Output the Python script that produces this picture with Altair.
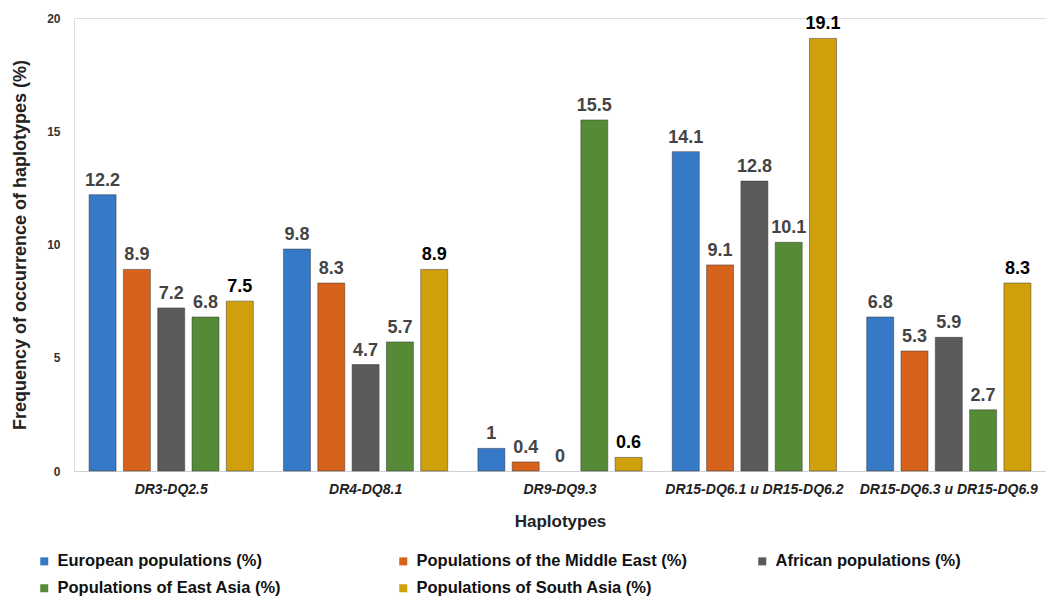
import altair as alt
import pandas as pd

haplotypes = ["DR3-DQ2.5", "DR4-DQ8.1", "DR9-DQ9.3", "DR15-DQ6.1 u DR15-DQ6.2", "DR15-DQ6.3 u DR15-DQ6.9"]
populations = ["European populations (%)", "Populations of the Middle East (%)", "African populations (%)",
               "Populations of East Asia (%)", "Populations of South Asia (%)"]
colors = ["#3679C7", "#D6621B", "#5B5B5B", "#558B36", "#CFA00C"]
european = [12.2, 9.8, 1, 14.1, 6.8]
middle_east = [8.9, 8.3, 0.4, 9.1, 5.3]
african = [7.2, 4.7, 0, 12.8, 5.9]
east_asia = [6.8, 5.7, 15.5, 10.1, 2.7]
south_asia = [7.5, 8.9, 0.6, 19.1, 8.3]

series = [european, middle_east, african, east_asia, south_asia]
rows = []
for p, vals in zip(populations, series):
    for h, v in zip(haplotypes, vals):
        rows.append({"Haplotype": h, "Population": p, "Value": v,
                     "Label": f"{v:g}", "South": p == populations[4]})
df = pd.DataFrame(rows)

FONT = "Liberation Sans"

x = alt.X("Haplotype:N", sort=haplotypes,
          scale=alt.Scale(paddingInner=0.1, paddingOuter=0.05),
          axis=alt.Axis(title="Haplotypes", labelAngle=0, labelFontStyle="italic",
                        labelFontWeight="bold", labelFontSize=14, labelColor="#222",
                        labelPadding=11, ticks=False, domainColor="#d0d0d0",
                        titleFontSize=17, titleFontWeight="bold", titleColor="#222",
                        titlePadding=17, labelFont=FONT, titleFont=FONT))
xo = alt.XOffset("Population:N", sort=populations,
                 scale=alt.Scale(paddingInner=0.213, paddingOuter=0.156))

base = alt.Chart(df)

bars = base.transform_filter("datum.Value > 0").mark_bar(
    stroke="#333333", strokeWidth=0.8, strokeOpacity=0.6).encode(
    x=x, xOffset=xo,
    y=alt.Y("Value:Q", scale=alt.Scale(domain=[0, 20]),
            axis=alt.Axis(title="Frequency of occurrence of haplotypes (%)", values=[0, 5, 10, 15, 20],
                          grid=False, domain=False, ticks=False, labelPadding=14,
                          labelFontSize=12, labelFontWeight="bold", labelColor="#333",
                          titleFontSize=18, titleFontWeight="bold", titleColor="#222",
                          titleX=-45, labelFont=FONT, titleFont=FONT)),
    color=alt.Color("Population:N", sort=populations,
                    scale=alt.Scale(domain=populations, range=colors),
                    legend=alt.Legend(title=None, orient="none", legendX=-38, legendY=535,
                                      direction="horizontal", columns=3, gridAlign="all",
                                      columnPadding=67, rowPadding=10,
                                      symbolType="square", symbolSize=64, symbolStrokeWidth=0,
                                      labelFontSize=16.5, labelFontWeight="bold", labelColor="#111",
                                      labelFont=FONT,
                                      labelLimit=400, symbolOffset=0, labelOffset=5)),
)

labels = base.transform_filter("!datum.South").mark_text(
    dy=-14, fontSize=18, fontWeight="bold", color="#444", font=FONT).encode(
    x=x, xOffset=xo, y="Value:Q", text="Label:N")
labels_sa = base.transform_filter("datum.South").mark_text(
    dy=-14, fontSize=18, fontWeight="bold", color="#000", font=FONT).encode(
    x=x, xOffset=xo, y="Value:Q", text="Label:N")

chart = alt.layer(bars, labels, labels_sa).properties(
    width=972, height=453,
    autosize=alt.AutoSizeParams(type="none"),
    padding={"left": 74, "top": 18, "right": 0, "bottom": 128},
).configure_view(stroke=None).configure(background="white")

chart.save("out.html", embed_options={"renderer": "svg", "actions": False})
